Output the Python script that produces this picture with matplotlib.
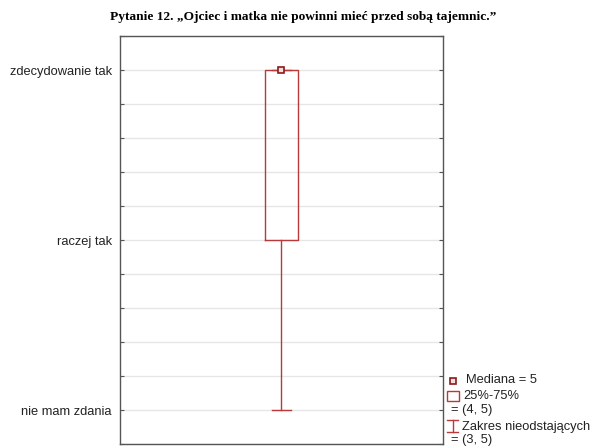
import numpy as np
import matplotlib.pyplot as plt
from matplotlib.lines import Line2D
from matplotlib.patches import Rectangle

# odpowiedzi na skali (3 = nie mam zdania, 4 = raczej tak, 5 = zdecydowanie tak)
answer_values = [3, 4, 5]
answer_labels = ["nie mam zdania", "raczej tak", "zdecydowanie tak"]

# statystyki opisowe dla pytania 12
median = 5
q1, q3 = 4, 5
whisker_low, whisker_high = 3, 5

title = "Pytanie 12. \u201eOjciec i matka nie powinni mie\u0107 przed sob\u0105 tajemnic.\u201d"
red = "#b83a3a"

plt.rcParams['font.family'] = ['Liberation Sans', 'DejaVu Sans']

fig = plt.figure(figsize=(5.96, 4.48), dpi=100)
ax = fig.add_axes([120 / 596, 4 / 448, 323 / 596, 408 / 448])

stats = [{
    'med': median, 'q1': q1, 'q3': q3,
    'whislo': whisker_low, 'whishi': whisker_high, 'fliers': [],
}]
ax.bxp(stats, positions=[1], widths=0.1, showcaps=True, patch_artist=False,
       boxprops=dict(color=red, lw=1),
       whiskerprops=dict(color=red, lw=1),
       capprops=dict(color=red, lw=1),
       medianprops=dict(lw=0, alpha=0),
       capwidths=0.056)
ax.plot([1], [median], marker='s', ms=5, mfc='#f3dede', mec='#8b1a1a',
        mew=1.2, ls='none', zorder=5)

ax.set_xlim(0.5, 1.5)
ax.set_ylim(2.8, 5.2)
ax.set_xticks([])
ax.set_yticks(answer_values)
ax.set_yticklabels(answer_labels, fontsize=9.3, color='#222222')
ax.set_yticks(np.arange(2.8, 5.21, 0.2), minor=True)
ax.yaxis.grid(True, which='both', color='#e6e6e6', lw=1)
ax.set_axisbelow(True)
ax.tick_params(axis='y', which='both', direction='in', length=3, width=0.8,
               color='#555555', right=True, pad=6)
for s in ax.spines.values():
    s.set_color('#555555')
    s.set_linewidth(1)

fig.text(303 / 596, 1 - 17 / 448, title, ha='center', va='center',
         fontsize=9.6, fontweight='bold', family='Liberation Serif')


# legenda po prawej stronie, w pikselach obrazu
def fx(px):
    return px / 596


def fy(py):
    return 1 - py / 448


fig.add_artist(Line2D([fx(453)], [fy(380.7)], marker='s', ms=4, mfc='#f3dede',
                      mec='#8b1a1a', mew=1.2, ls='none'))
fig.add_artist(Rectangle((fx(447), fy(401)), fx(459) - fx(447), fy(391) - fy(401),
                         fill=False, ec=red, lw=1))
fig.add_artist(Line2D([fx(452.5), fx(452.5)], [fy(420), fy(432)], color=red, lw=1))
fig.add_artist(Line2D([fx(447), fx(458)], [fy(420), fy(420)], color=red, lw=1))
fig.add_artist(Line2D([fx(447), fx(458)], [fy(432), fy(432)], color=red, lw=1))

legend_lines = [
    (466, 380, f"Mediana = {median}"),
    (463, 396, "25%-75%"),
    (451, 410, f"= ({q1}, {q3})"),
    (462, 426.5, "Zakres nieodstaj\u0105cych"),
    (451, 440, f"= ({whisker_low}, {whisker_high})"),
]
for x, y, txt in legend_lines:
    fig.text(fx(x), fy(y), txt, ha='left', va='center', fontsize=9.3, color='#222222')

fig.savefig("out.png", dpi=100)
